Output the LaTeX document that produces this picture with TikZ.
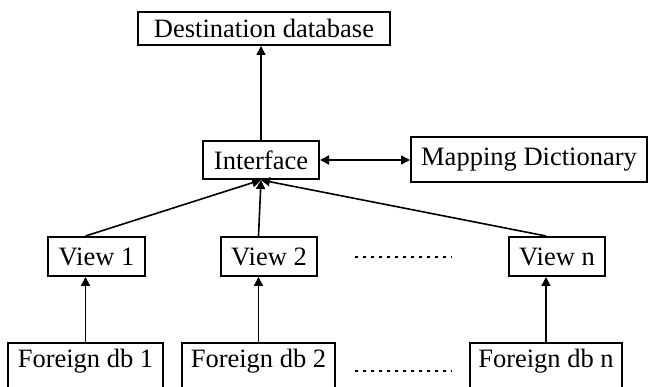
\documentclass[tikz,border=0pt]{standalone}
\usepackage{fontspec}
\setmainfont{Liberation Serif}
\usetikzlibrary{arrows.meta}
\begin{document}
\begin{tikzpicture}[x=1pt,y=-1pt,
  box/.style={draw,line width=2pt,inner sep=0pt,font=\fontsize{26.5}{28}\selectfont},
  openbox/.style={inner sep=0pt,font=\fontsize{26.5}{28}\selectfont},
  conn/.style={line width=1.6pt,-{Triangle[length=9pt,width=9pt]}},
  biconn/.style={line width=1.6pt,{Triangle[length=9pt,width=9pt]}-{Triangle[length=9pt,width=9pt]}},
  dotline/.style={line width=2pt,dash pattern=on 2.5pt off 5.5pt}]
\clip (0,0) rectangle (648,387);
\node[box,minimum width=252pt,minimum height=33pt] (dest) at (264,28.5) {Destination database};
\node[box,minimum width=116pt,minimum height=38pt] (iface) at (261,160) {Interface};
\node[box,minimum width=236pt,minimum height=45pt] (map) at (529,160) {Mapping Dictionary};
\node[box,minimum width=97pt,minimum height=39pt] (v1) at (96.5,256.5) {View 1};
\node[box,minimum width=96pt,minimum height=39pt] (v2) at (269,256.5) {View 2};
\node[box,minimum width=96pt,minimum height=39pt] (vn) at (557,256.5) {View n};
\node[openbox,minimum width=155pt,minimum height=36pt] (f1) at (85.5,361) {Foreign db 1};
\node[openbox,minimum width=153pt,minimum height=36pt] (f2) at (258.5,361) {Foreign db 2};
\node[openbox,minimum width=152pt,minimum height=36pt] (fn) at (546,361) {Foreign db n};
\foreach \f in {f1,f2,fn}
  \draw[line width=2pt] ([yshift=-15pt]\f.south west) -- (\f.north west) -- (\f.north east) -- ([yshift=-15pt]\f.south east);
\draw[conn] (iface.north) -- (iface.north |- dest.south);
\draw[biconn] (iface.east) -- (map.west);
\draw[conn] (v1.north -| f1.north) -- (iface.south);
\draw[conn] (v2.north -| f2.north) -- (iface.south);
\draw[conn] (vn.north -| fn.north) -- (iface.south);
\draw[conn] (f1.north) -- (f1.north |- v1.south);
\draw[conn] (f2.north) -- (f2.north |- v2.south);
\draw[conn] (fn.north) -- (fn.north |- vn.south);
\coordinate (d1a) at (355,257);
\coordinate (d1b) at (452,257);
\coordinate (d2a) at (355,371);
\coordinate (d2b) at (452,371);
\draw[dotline] (d1a) -- (d1b);
\draw[dotline] (d2a) -- (d2b);
\end{tikzpicture}
\end{document}
